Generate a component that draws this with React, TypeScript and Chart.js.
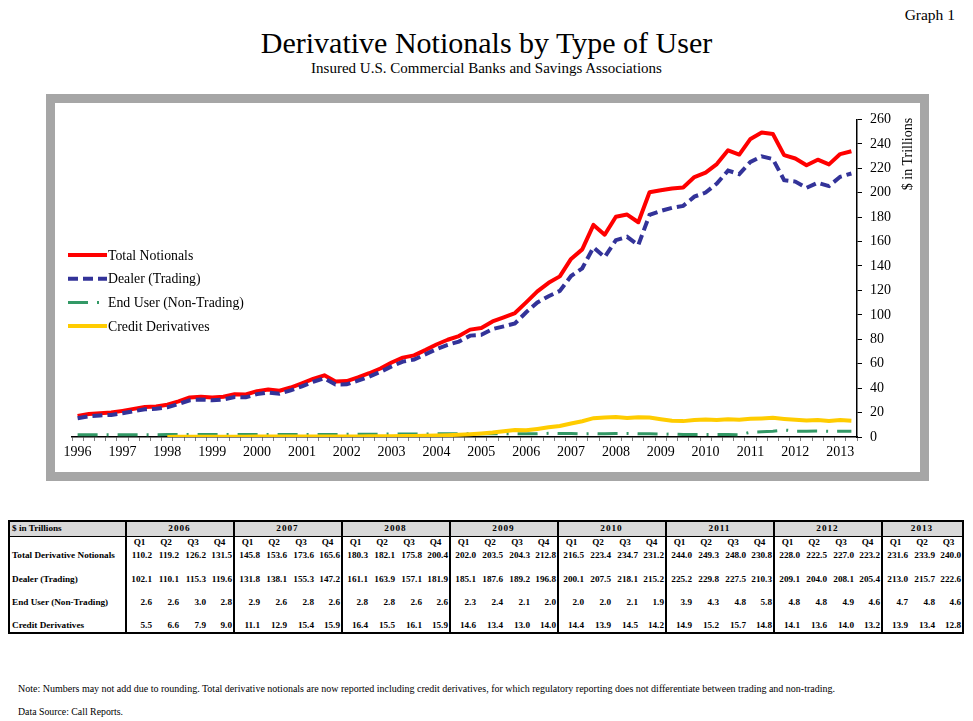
import React, { useEffect, useRef } from "react";
import { Chart, registerables } from "chart.js";

Chart.register(...registerables);

// ---------------- DATA ----------------
const YEARS = [1996, 1997, 1998, 1999, 2000, 2001, 2002, 2003, 2004, 2005, 2006, 2007, 2008, 2009, 2010, 2011, 2012, 2013];
const QUARTER_LABELS = ["Q1", "Q2", "Q3", "Q4"];
const CHART_QUARTERS = 70; // plotted: 1996 Q1 – 2013 Q2
const TABLE_FIRST_YEAR = 2006;

const SERIES_NAMES = ["Total Notionals", "Dealer (Trading)", "End User (Non-Trading)", "Credit Derivatives"];
const TABLE_ROW_NAMES = ["Total Derivative Notionals", "Dealer (Trading)", "End User (Non-Trading)", "Credit Derivatives"];

// $ trillions, quarterly from 1996 Q1 to 2013 Q3
const TOTAL = [
  17.3, 18.9, 19.5, 20.0,
  21.4, 23.0, 24.6, 25.0,
  26.4, 29.2, 32.4, 33.0,
  32.4, 33.0, 35.0, 34.8,
  37.5, 38.8, 37.9, 40.5,
  43.9, 47.5, 50.5, 45.4,
  45.8, 48.8, 52.2, 56.1,
  61.0, 65.0, 66.8, 71.1,
  75.7, 79.6, 82.6, 87.9,
  89.2, 94.6, 98.0, 101.5,
  110.2, 119.2, 126.2, 131.5,
  145.8, 153.6, 173.6, 165.6,
  180.3, 182.1, 175.8, 200.4,
  202.0, 203.5, 204.3, 212.8,
  216.5, 223.4, 234.7, 231.2,
  244.0, 249.3, 248.0, 230.8,
  228.0, 222.5, 227.0, 223.2,
  231.6, 233.9, 240.0,
];

const DEALER = [
  15.4, 17.0, 17.6, 18.1,
  19.5, 21.1, 22.7, 23.1,
  24.3, 27.0, 30.1, 30.7,
  30.1, 30.7, 32.7, 32.5,
  35.1, 36.4, 35.5, 38.1,
  41.5, 45.1, 48.1, 43.0,
  43.1, 46.1, 49.4, 53.3,
  57.8, 61.7, 63.4, 67.6,
  71.9, 75.5, 78.1, 83.0,
  83.6, 88.3, 90.6, 93.0,
  102.1, 110.1, 115.3, 119.6,
  131.8, 138.1, 155.3, 147.2,
  161.1, 163.9, 157.1, 181.9,
  185.1, 187.6, 189.2, 196.8,
  200.1, 207.5, 218.1, 215.2,
  225.2, 229.8, 227.5, 210.3,
  209.1, 204.0, 208.1, 205.4,
  213.0, 215.7, 222.6,
];

const END_USER = [
  1.9, 1.9, 1.9, 1.9,
  1.9, 1.9, 1.9, 1.9,
  2.0, 2.0, 2.0, 2.0,
  2.0, 2.0, 2.0, 2.0,
  2.0, 2.0, 2.0, 2.0,
  2.0, 2.0, 2.0, 2.0,
  2.2, 2.2, 2.2, 2.2,
  2.5, 2.5, 2.5, 2.5,
  2.6, 2.6, 2.6, 2.6,
  2.7, 2.7, 2.7, 2.7,
  2.6, 2.6, 3.0, 2.8,
  2.9, 2.6, 2.8, 2.6,
  2.8, 2.8, 2.6, 2.6,
  2.3, 2.4, 2.1, 2.0,
  2.0, 2.0, 2.1, 1.9,
  3.9, 4.3, 4.8, 5.8,
  4.8, 4.8, 4.9, 4.6,
  4.7, 4.8, 4.6,
];

const CREDIT: (number | null)[] = [
  null, null, null, null,
  null, null, null, null,
  0.1, 0.2, 0.3, 0.3,
  0.3, 0.3, 0.3, 0.3,
  0.4, 0.4, 0.4, 0.4,
  0.4, 0.4, 0.4, 0.4,
  0.5, 0.5, 0.6, 0.6,
  0.7, 0.8, 0.9, 1.0,
  1.2, 1.5, 1.9, 2.3,
  2.9, 3.6, 4.7, 5.8,
  5.5, 6.6, 7.9, 9.0,
  11.1, 12.9, 15.4, 15.9,
  16.4, 15.5, 16.1, 15.9,
  14.6, 13.4, 13.0, 14.0,
  14.4, 13.9, 14.5, 14.2,
  14.9, 15.2, 15.7, 14.8,
  14.1, 13.6, 14.0, 13.2,
  13.9, 13.4, 12.8,
];

const Y_MIN = 0;
const Y_MAX = 260;
const Y_STEP = 20;

// ---------------- DERIVED ----------------
const CATEGORIES = YEARS.flatMap((y) => QUARTER_LABELS.map((q) => `${y} ${q}`)).slice(0, TOTAL.length);

const SERIF = '"Liberation Serif", "Times New Roman", serif';

const insideLegend = {
  id: "insideLegend",
  afterDatasetsDraw(chart: any, _args: any, opts: any) {
    const ctx = chart.ctx;
    ctx.save();
    chart.data.datasets.forEach((ds: any, i: number) => {
      const y = opts.top + i * opts.spacing;
      ctx.beginPath();
      ctx.strokeStyle = ds.borderColor;
      ctx.lineWidth = ds.borderWidth;
      ctx.setLineDash(ds.borderDash || []);
      ctx.lineCap = "butt";
      ctx.moveTo(opts.left, y);
      ctx.lineTo(opts.left + opts.sampleWidth, y);
      ctx.stroke();
      ctx.setLineDash([]);
      ctx.fillStyle = "#000";
      ctx.font = opts.font;
      ctx.textBaseline = "middle";
      ctx.textAlign = "left";
      ctx.fillText(ds.label, opts.left + opts.sampleWidth + 1, y + 1);
    });
    ctx.restore();
  },
};

function NotionalsChart() {
  const ref = useRef<HTMLCanvasElement>(null);
  useEffect(() => {
    if (!ref.current) return;
    const n = CHART_QUARTERS;
    const chart = new Chart(ref.current, {
      type: "line",
      data: {
        labels: CATEGORIES.slice(0, n),
        datasets: [
          { label: SERIES_NAMES[0], data: TOTAL.slice(0, n), borderColor: "#ff0000", backgroundColor: "#ff0000", borderWidth: 4, pointRadius: 0, tension: 0, order: 3, borderJoinStyle: "round" },
          { label: SERIES_NAMES[1], data: DEALER.slice(0, n), borderColor: "#333399", backgroundColor: "#333399", borderWidth: 4, borderDash: [10, 5], pointRadius: 0, tension: 0, order: 2 },
          { label: SERIES_NAMES[2], data: END_USER.slice(0, n), borderColor: "#339966", backgroundColor: "#339966", borderWidth: 3, borderDash: [20, 9, 2, 9], pointRadius: 0, tension: 0, order: 1 },
          { label: SERIES_NAMES[3], data: CREDIT.slice(0, n), borderColor: "#ffcc00", backgroundColor: "#ffcc00", borderWidth: 4, pointRadius: 0, tension: 0, order: 0 },
        ],
      },
      options: {
        responsive: false,
        animation: false,
        events: [],
        layout: { padding: { left: 17, top: 16, right: 0, bottom: 0 } },
        plugins: {
          legend: { display: false },
          tooltip: { enabled: false },
          insideLegend: { left: 13, top: 152, spacing: 23.7, sampleWidth: 39, font: `13.8px ${SERIF}` },
        } as any,
        scales: {
          x: {
            type: "category",
            offset: true,
            grid: { offset: true, drawOnChartArea: false, drawTicks: true, tickLength: 4, color: "#7f7f7f", lineWidth: 1 },
            border: { display: true, color: "#000", width: 1.5 },
            ticks: {
              autoSkip: false,
              maxRotation: 0,
              minRotation: 0,
              padding: 3,
              color: "#000",
              font: { family: SERIF, size: 14 },
              callback: (_v: any, i: number) => (i % 4 === 0 ? CATEGORIES[i].split(" ")[0] : ""),
            },
            afterFit: (s: any) => {
              s.height = 35;
            },
          },
          y: {
            position: "right",
            min: Y_MIN,
            max: Y_MAX,
            ticks: { stepSize: Y_STEP, padding: 8, color: "#000", font: { family: SERIF, size: 14 } },
            grid: { drawOnChartArea: false, drawTicks: true, tickLength: 5, color: "#000" },
            border: { display: true, color: "#000", width: 1.5 },
            afterFit: (s: any) => {
              s.width = 63;
            },
          },
        },
      },
      plugins: [insideLegend],
    } as any);
    return () => chart.destroy();
  }, []);
  return <canvas ref={ref} width={865} height={369} style={{ display: "block", width: 865, height: 369 }} />;
}

function DataTable() {
  const tableYears = YEARS.filter((y) => y >= TABLE_FIRST_YEAR);
  const startIdx = (TABLE_FIRST_YEAR - YEARS[0]) * 4;
  const rows = [TOTAL, DEALER, END_USER, CREDIT];
  const groups = tableYears.map((y, gi) => {
    const first = startIdx + gi * 4;
    const count = Math.min(4, TOTAL.length - first);
    return { year: y, first, count };
  });
  const cols: { idx: number; q: string; groupStart: boolean }[] = [];
  groups.forEach((g) => {
    for (let k = 0; k < g.count; k++) cols.push({ idx: g.first + k, q: QUARTER_LABELS[k], groupStart: k === 0 });
  });
  const thick = "2px solid #000";
  const cellBase: React.CSSProperties = { padding: "0 1px 1px 0", whiteSpace: "nowrap", verticalAlign: "bottom", lineHeight: "11px", overflow: "visible" };
  const rowHeights = [13, 13, 24, 23, 24];
  return (
    <table
      style={{
        position: "absolute",
        left: 8,
        top: 520,
        borderCollapse: "collapse",
        tableLayout: "fixed",
        width: 954,
        fontFamily: SERIF,
        fontWeight: "bold",
        fontSize: 9.2,
        color: "#000",
        border: thick,
      }}
    >
      <colgroup>
        <col style={{ width: 117 }} />
        {cols.map((c) => (
          <col key={c.idx} style={{ width: 27 }} />
        ))}
      </colgroup>
      <tbody>
        <tr style={{ height: 15 }}>
          <td style={{ ...cellBase, background: "#d9d9d9", borderRight: thick, borderBottom: "1px solid #000", paddingLeft: 2, verticalAlign: "middle" }}>$ in Trillions</td>
          {groups.map((g) => (
            <td key={g.year} colSpan={g.count} style={{ ...cellBase, background: "#d9d9d9", borderLeft: thick, borderBottom: "1px solid #000", textAlign: "center", letterSpacing: 1, verticalAlign: "middle" }}>
              {g.year}
            </td>
          ))}
        </tr>
        <tr style={{ height: rowHeights[0] }}>
          <td style={{ ...cellBase, borderRight: thick }}></td>
          {cols.map((c) => (
            <td key={c.idx} style={{ ...cellBase, textAlign: "center", borderLeft: c.groupStart ? thick : undefined }}>
              {c.q}
            </td>
          ))}
        </tr>
        {rows.map((series, ri) => (
          <tr key={ri} style={{ height: rowHeights[ri + 1] }}>
            <td style={{ ...cellBase, borderRight: thick, paddingLeft: 2 }}>{TABLE_ROW_NAMES[ri]}</td>
            {cols.map((c) => (
              <td key={c.idx} style={{ ...cellBase, textAlign: "right", borderLeft: c.groupStart ? thick : undefined }}>
                {(series[c.idx] as number).toFixed(1)}
              </td>
            ))}
          </tr>
        ))}
      </tbody>
    </table>
  );
}

export default function App() {
  return (
    <div style={{ position: "absolute", left: 0, top: 0, width: 973, height: 721, background: "#fff", fontFamily: SERIF, color: "#000", overflow: "hidden" }}>
      <div style={{ position: "absolute", right: 18, top: 6, fontSize: 15.5, lineHeight: "18px" }}>Graph 1</div>
      <div style={{ position: "absolute", left: 0, width: 973, top: 26, textAlign: "center", fontSize: 30, lineHeight: "34px" }}>
        Derivative Notionals by Type of User
      </div>
      <div style={{ position: "absolute", left: 0, width: 973, top: 60, textAlign: "center", fontSize: 15, lineHeight: "17px" }}>
        Insured U.S. Commercial Banks and Savings Associations
      </div>
      <div style={{ position: "absolute", left: 46, top: 94, width: 865, height: 369, border: "9px solid #a6a6a6", background: "#fff" }}>
        <NotionalsChart />
      </div>
      <div
        style={{
          position: "absolute",
          left: 908 - 50,
          top: 154 - 9,
          width: 100,
          height: 18,
          lineHeight: "18px",
          fontSize: 14,
          textAlign: "center",
          transform: "rotate(-90deg)",
          whiteSpace: "nowrap",
        }}
      >
        $ in Trillions
      </div>
      <DataTable />
      <div style={{ position: "absolute", left: 18, top: 683, fontSize: 10, lineHeight: "11px", whiteSpace: "nowrap" }}>
        Note: Numbers may not add due to rounding. Total derivative notionals are now reported including credit derivatives, for which regulatory reporting does not differentiate between trading and non-trading.
      </div>
      <div style={{ position: "absolute", left: 18, top: 706, fontSize: 9.8, lineHeight: "11px", whiteSpace: "nowrap" }}>Data Source: Call Reports.</div>
    </div>
  );
}
